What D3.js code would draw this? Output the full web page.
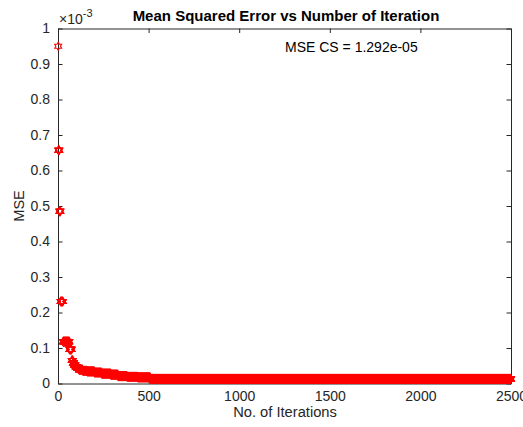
<!DOCTYPE html>
<html>
<head>
<meta charset="utf-8">
<script src="https://cdn.jsdelivr.net/npm/d3@7"></script>
<style>
  html, body { margin: 0; padding: 0; background: #fff; }
  svg { display: block; }
  text { font-family: "Liberation Sans", Arial, Helvetica, sans-serif; }
</style>
</head>
<body>
<svg id="chart" width="523" height="427"></svg>
<script>
// Best MSE (x 1e-3) held over runs of iterations: [first iteration, last iteration, value]
const runStart = [1, 2, 8, 14, 28, 63, 76, 83, 89, 97, 106, 116, 136, 161, 201, 241, 291, 331, 381, 441, 509];
const runEnd   = [1, 7, 13, 27, 62, 75, 82, 88, 96, 105, 115, 135, 160, 200, 240, 290, 330, 380, 440, 508, 2500];
const runValue = [0.950, 0.657, 0.485, 0.231, 0.118, 0.096, 0.065, 0.058, 0.052, 0.047, 0.043, 0.039, 0.036, 0.034, 0.031, 0.028, 0.025, 0.021, 0.019, 0.0175, 0.01292];

const xTicks = [0, 500, 1000, 1500, 2000, 2500];
const yTicks = [0, 0.1, 0.2, 0.3, 0.4, 0.5, 0.6, 0.7, 0.8, 0.9, 1];
const titleText = "Mean Squared Error vs Number of Iteration";
const xLabelText = "No. of Iterations";
const yLabelText = "MSE";
const noteText = "MSE CS = 1.292e-05";

// one point per iteration, value held constant inside each run
const points = [];
runStart.forEach((s, i) => {
  for (let it = s; it <= runEnd[i]; it++) points.push({ it, v: runValue[i] });
});

const svg = d3.select("#chart");
const m = { left: 58, right: 511, top: 28.5, bottom: 383.5 };
const axisColor = "#262626";

const x = d3.scaleLinear().domain([0, 2500]).range([m.left, m.right]);
const y = d3.scaleLinear().domain([0, 1]).range([m.bottom, m.top]);

// six-pointed star marker
function hexagram(r) {
  const ri = r * 0.58;
  const pts = [];
  for (let k = 0; k < 12; k++) {
    const a = -Math.PI / 2 + k * Math.PI / 6;
    const rr = k % 2 === 0 ? r : ri;
    pts.push([rr * Math.cos(a), rr * Math.sin(a)]);
  }
  return "M" + pts.map(p => p[0].toFixed(2) + "," + p[1].toFixed(2)).join("L") + "Z";
}
const markerPath = hexagram(4);

// axes with inward ticks on all four sides
const fmtY = d => d === 0 ? "0" : d === 1 ? "1" : d3.format(".1f")(d);
const fmtX = d3.format("d");
const ax = [
  { g: d3.axisBottom(x).tickValues(xTicks).tickSizeInner(-4.5).tickSizeOuter(0).tickPadding(8).tickFormat(fmtX), t: `translate(0,${m.bottom})` },
  { g: d3.axisTop(x).tickValues(xTicks).tickSizeInner(-4.5).tickSizeOuter(0).tickFormat(""), t: `translate(0,${m.top})` },
  { g: d3.axisLeft(y).tickValues(yTicks).tickSizeInner(-4.5).tickSizeOuter(0).tickPadding(8).tickFormat(fmtY), t: `translate(${m.left},0)` },
  { g: d3.axisRight(y).tickValues(yTicks).tickSizeInner(-4.5).tickSizeOuter(0).tickFormat(""), t: `translate(${m.right},0)` }
];
ax.forEach(a => {
  const g = svg.append("g").attr("transform", a.t).call(a.g);
  g.select(".domain").attr("stroke", axisColor).attr("stroke-width", 1);
  g.selectAll(".tick line").attr("stroke", axisColor);
  g.selectAll(".tick text").attr("fill", axisColor).style("font-size", "14px")
    .style("font-family", '"Liberation Sans", Arial, sans-serif');
});

// data markers
svg.append("g")
  .selectAll("path")
  .data(points)
  .join("path")
  .attr("d", markerPath)
  .attr("transform", d => `translate(${x(d.it)},${y(d.v)})`)
  .attr("fill", "none")
  .attr("stroke", "#ff0000")
  .attr("stroke-width", 1.1);

// title
svg.append("text")
  .attr("x", 286)
  .attr("y", 21)
  .attr("text-anchor", "middle")
  .style("font-size", "15px")
  .style("font-weight", "bold")
  .attr("fill", "#000")
  .text(titleText);

// exponent multiplier
const mult = svg.append("text")
  .attr("x", m.left + 1)
  .attr("y", 24)
  .attr("fill", axisColor)
  .style("font-size", "14px");
mult.append("tspan").text("\u00d710");
mult.append("tspan").attr("dy", -7).style("font-size", "11px").text("-3");

// axis labels
svg.append("text")
  .attr("x", 285)
  .attr("y", 417)
  .attr("text-anchor", "middle")
  .attr("fill", axisColor)
  .style("font-size", "14.7px")
  .text(xLabelText);

svg.append("text")
  .attr("transform", `translate(24,${206}) rotate(-90)`)
  .attr("text-anchor", "middle")
  .attr("fill", axisColor)
  .style("font-size", "14.5px")
  .text(yLabelText);

// annotation
svg.append("text")
  .attr("x", 285)
  .attr("y", 52)
  .attr("fill", "#000")
  .style("font-size", "14px")
  .text(noteText);
</script>
</body>
</html>
